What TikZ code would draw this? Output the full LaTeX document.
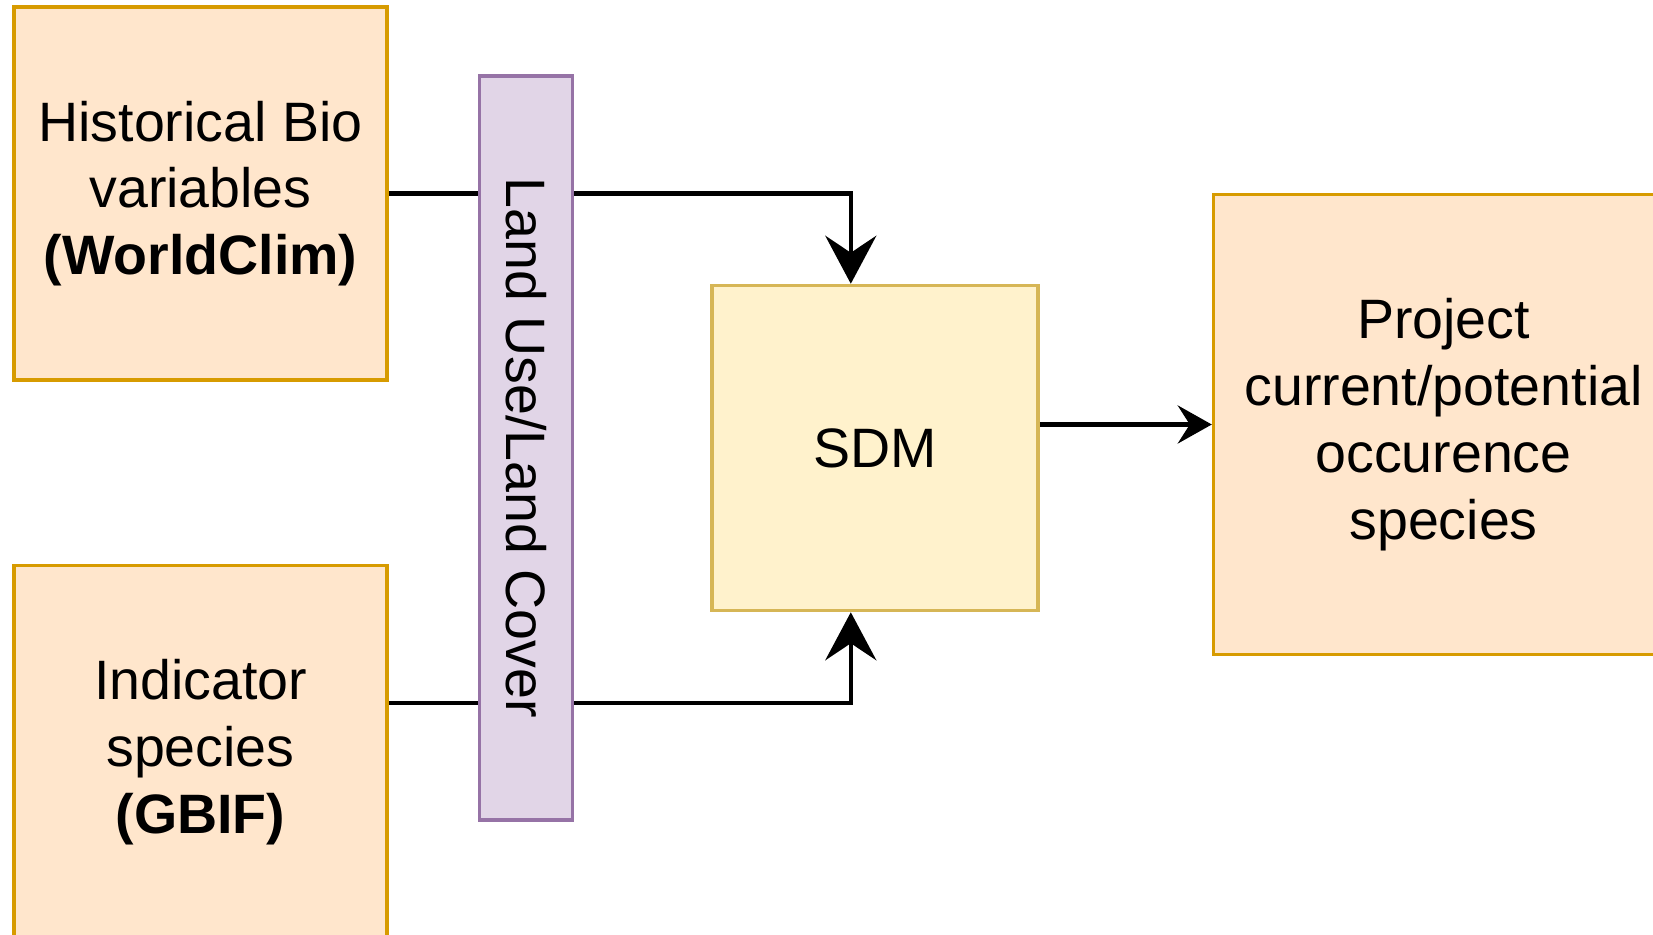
\documentclass[tikz,border=0pt]{standalone}
\usepackage{fontspec}
\setmainfont{Liberation Sans}
\usepackage{tikz}
\usetikzlibrary{shapes.geometric, arrows.meta, calc, positioning}
\definecolor{srcfill}{HTML}{FFE6CC}
\definecolor{srcline}{HTML}{D79B00}
\definecolor{sdmfill}{HTML}{FFF2CC}
\definecolor{sdmline}{HTML}{D6B656}
\definecolor{layerfill}{HTML}{E1D5E7}
\definecolor{layerline}{HTML}{9673A6}
\tikzstyle{source} = [rectangle, line width=1pt, minimum width=3.73cm, minimum height=3.73cm, text centered, align=center, draw=srcline, fill=srcfill]
\tikzstyle{layer} = [rectangle, line width=1pt, minimum width=0.93cm, minimum height=7.44cm, inner sep=0pt, draw=layerline, fill=layerfill]
\tikzstyle{block} = [rectangle, line width=1pt, minimum width=3.26cm, minimum height=3.25cm, text centered, draw=sdmline, fill=sdmfill]
\tikzstyle{result} = [rectangle, line width=1pt, minimum width=4.6cm, minimum height=4.6cm, text centered, align=center, draw=srcline, fill=srcfill]
\tikzstyle{link} = [line width=1.3pt]
\tikzstyle{arrow} = [line width=1.3pt, -{Stealth[length=4.8mm, width=5.1mm, inset=1.7mm]}]
\tikzstyle{smallarrow} = [line width=1.3pt, -{Stealth[length=3.4mm, width=3.8mm, inset=1.2mm]}]

\begin{document}
\begin{tikzpicture}[node distance = 10mm, auto, font=\fontsize{15.8pt}{19pt}\selectfont]
		\useasboundingbox (0,0) rectangle (16.53,-9.35);
		
		\node (Historical) [source] at (2.005,-1.935) {Historical Bio\\variables\\\textbf{(WorldClim)}};
		\node (Indicator) [source, below = 1.82cm of Historical] {Indicator\\species\\\textbf{(GBIF)}};
		\node (LandUse) [layer, below right = 0.69cm and 0.89cm of Historical.north east] {\rotatebox{-90}{Land Use/Land Cover}};
		\node (SDM) [block, right = 1.36cm of LandUse] {SDM};
		\node (Project) [result, right = 1.72cm of SDM, yshift=0.235cm] {Project\\current/potential\\occurence\\species};
		
		\path (SDM.north) -- (SDM.north west) coordinate[pos=0.147] (SDMTop);
		\path (SDM.south) -- (SDM.south west) coordinate[pos=0.147] (SDMBottom);
		\path (Indicator.east) -- (Indicator.north east) coordinate[pos=0.26] (IndicatorOut);
		
		\draw [link] (Historical.east) -- (LandUse.west |- Historical.east);
		\draw [arrow] (LandUse.east |- Historical.east) -| (SDMTop);
		\draw [link] (IndicatorOut) -- (LandUse.west |- IndicatorOut);
		\draw [arrow] (LandUse.east |- IndicatorOut) -| (SDMBottom);
		\draw [smallarrow] (SDM.east |- Project.west) -- (Project.west);
		
\end{tikzpicture}
\end{document}
